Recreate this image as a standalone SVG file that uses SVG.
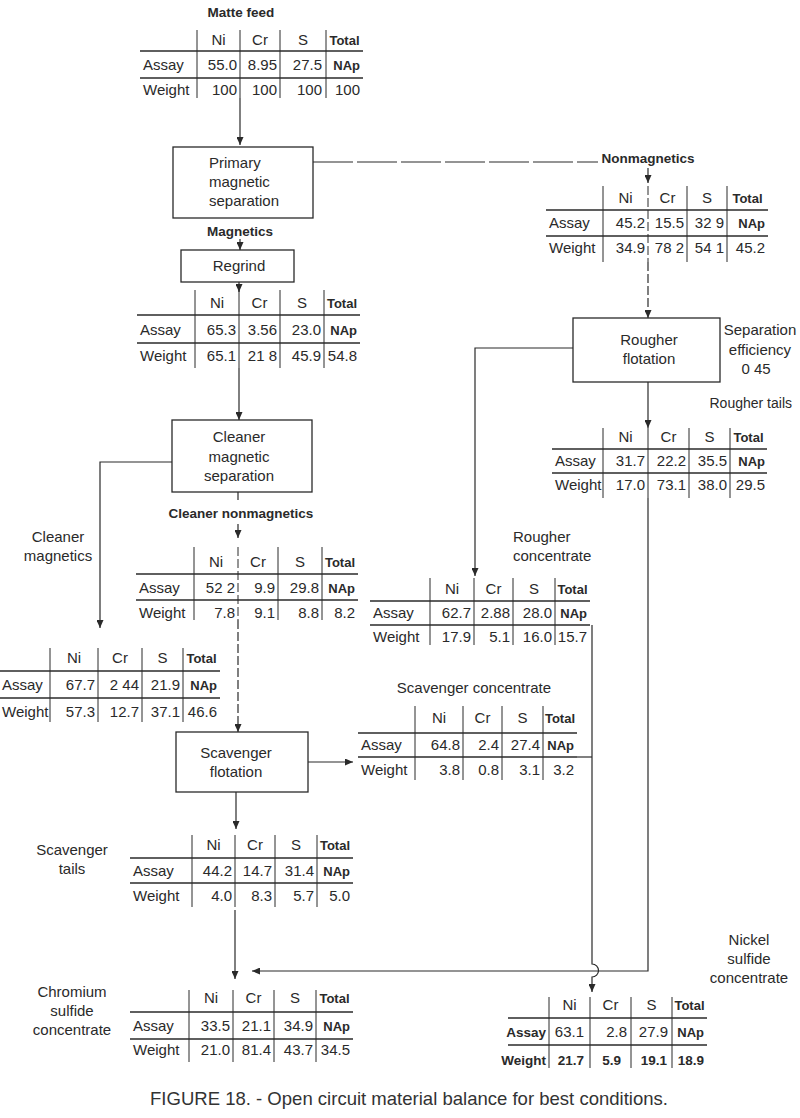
<svg xmlns="http://www.w3.org/2000/svg" width="800" height="1118" viewBox="0 0 800 1118">
<defs>
<marker id="ah" markerWidth="8" markerHeight="7" refX="8" refY="3.5" orient="auto" markerUnits="userSpaceOnUse">
<path d="M0,0 L8,3.5 L0,7 z" fill="#2a2a2a"/>
</marker>
<style>
text{font-family:"Liberation Sans",Arial,sans-serif;fill:#2a2a2a;font-size:15px}
.b{font-weight:bold;font-size:13px}
.lb{font-weight:bold;font-size:13.5px}
.m{text-anchor:middle}
.e{text-anchor:end}
.hl{stroke:#2a2a2a;stroke-width:1.5}
.vl{stroke:#2a2a2a;stroke-width:1}
.box{fill:none;stroke:#2a2a2a;stroke-width:1.3}
.c{fill:none;stroke:#2a2a2a;stroke-width:1.2}
.d{stroke-dasharray:40 4}
.dv{stroke-dasharray:9 3}
.cap{font-size:19px;fill:#333}
</style>
</defs>
<rect width="800" height="1118" fill="#ffffff"/>

<g id="connectors">
<path class="c" d="M240,98 V145" marker-end="url(#ah)"/>
<path class="c d" d="M313,162 H598"/>
<path class="c" d="M648,168 V183" marker-end="url(#ah)"/>
<path class="c dv" d="M648,262 V318" marker-end="url(#ah)"/>
<path class="c" d="M240,239 V250" marker-end="url(#ah)"/>
<path class="c" d="M239,282 V292" marker-end="url(#ah)"/>
<path class="c" d="M239,368 V420" marker-end="url(#ah)"/>
<path class="c" d="M172,462 H100 V628" marker-end="url(#ah)"/>
<path class="c" d="M238,492 V500"/>
<path class="c dv" d="M238,524 V538" marker-end="url(#ah)"/>
<path class="c dv" d="M238,620 V732" marker-end="url(#ah)"/>
<path class="c" d="M308,762 H353" marker-end="url(#ah)"/>
<path class="c" d="M236,792 V829" marker-end="url(#ah)"/>
<path class="c" d="M235,910 V979" marker-end="url(#ah)"/>
<path class="c" d="M573,348 H475 V576" marker-end="url(#ah)"/>
<path class="c" d="M648,382 V428" marker-end="url(#ah)"/>
<path class="c" d="M648,498 V971 H252" marker-end="url(#ah)"/>
<path class="c" d="M592,625 V964 A6,6 0 0 1 592,977 V992" marker-end="url(#ah)"/>
<path class="c" d="M577,757 H592"/>
</g>

<g id="matte-feed">
<text class="lb m" x="241" y="17">Matte feed</text>
<line class="hl" x1="140" y1="51" x2="363" y2="51"/>
<line class="hl" x1="140" y1="78" x2="363" y2="78"/>
<line class="vl" x1="197" y1="30" x2="197" y2="98"/>
<line class="vl" x1="240" y1="30" x2="240" y2="98"/>
<line class="vl" x1="280" y1="30" x2="280" y2="98"/>
<line class="vl" x1="326" y1="30" x2="326" y2="98"/>
<text class="m" x="218.5" y="45">Ni</text><text class="m" x="260" y="45">Cr</text><text class="m" x="303" y="45">S</text><text class="b m" x="344.5" y="45">Total</text>
<text x="143" y="70">Assay</text><text class="e" x="237" y="70">55.0</text><text class="e" x="277" y="70">8.95</text><text class="e" x="322" y="70">27.5</text><text class="b e" x="360" y="70">NAp</text>
<text x="143" y="95">Weight</text><text class="e" x="237" y="95">100</text><text class="e" x="277" y="95">100</text><text class="e" x="322" y="95">100</text><text class="e" x="360" y="95">100</text>
</g>

<g id="primary-magnetic-separation">
<rect class="box" x="173" y="147" width="140" height="71"/>
<text x="209" y="168">Primary</text>
<text x="209" y="187">magnetic</text>
<text x="209" y="206">separation</text>
</g>

<g id="magnetics-label"><text class="lb m" x="240" y="236">Magnetics</text></g>

<g id="regrind">
<rect class="box" x="181" y="250" width="113" height="32"/>
<text class="m" x="239" y="271">Regrind</text>
</g>

<g id="nonmagnetics">
<text class="lb m" x="648" y="163">Nonmagnetics</text>
<line class="hl" x1="546" y1="210" x2="768" y2="210"/>
<line class="hl" x1="546" y1="236" x2="768" y2="236"/>
<line class="vl" x1="603" y1="186" x2="603" y2="262"/>
<line class="vl dv" x1="648" y1="186" x2="648" y2="262"/>
<line class="vl" x1="687" y1="186" x2="687" y2="262"/>
<line class="vl" x1="727" y1="186" x2="727" y2="262"/>
<text class="m" x="625.5" y="203">Ni</text><text class="m" x="667.5" y="203">Cr</text><text class="m" x="707" y="203">S</text><text class="b m" x="747.5" y="203">Total</text>
<text x="549" y="228">Assay</text><text class="e" x="645" y="228">45.2</text><text class="e" x="684" y="228">15.5</text><text class="e" x="724" y="228">32 9</text><text class="b e" x="765" y="228">NAp</text>
<text x="549" y="253">Weight</text><text class="e" x="645" y="253">34.9</text><text class="e" x="684" y="253">78 2</text><text class="e" x="724" y="253">54 1</text><text class="e" x="765" y="253">45.2</text>
</g>

<g id="magnetics-table">
<line class="hl" x1="137" y1="315" x2="360" y2="315"/>
<line class="hl" x1="137" y1="343" x2="360" y2="343"/>
<line class="vl" x1="195" y1="290" x2="195" y2="368"/>
<line class="vl" x1="239" y1="290" x2="239" y2="368"/>
<line class="vl" x1="280" y1="290" x2="280" y2="368"/>
<line class="vl" x1="324" y1="290" x2="324" y2="368"/>
<text class="m" x="217" y="308">Ni</text><text class="m" x="259.5" y="308">Cr</text><text class="m" x="302" y="308">S</text><text class="b m" x="342" y="308">Total</text>
<text x="140" y="335">Assay</text><text class="e" x="236" y="335">65.3</text><text class="e" x="277" y="335">3.56</text><text class="e" x="321" y="335">23.0</text><text class="b e" x="357" y="335">NAp</text>
<text x="140" y="361">Weight</text><text class="e" x="236" y="361">65.1</text><text class="e" x="277" y="361">21 8</text><text class="e" x="321" y="361">45.9</text><text class="e" x="357" y="361">54.8</text>
</g>

<g id="rougher-flotation">
<rect class="box" x="573" y="318" width="147" height="64"/>
<text class="m" x="649" y="345">Rougher</text>
<text class="m" x="649" y="364">flotation</text>
</g>

<g id="separation-efficiency">
<text class="m" x="760" y="335">Separation</text>
<text class="m" x="760" y="355">efficiency</text>
<text class="m" x="756" y="374">0 45</text>
</g>

<g id="rougher-tails">
<text class="e" x="792" y="408" style="font-size:14px">Rougher tails</text>
<line class="hl" x1="552" y1="449" x2="767" y2="449"/>
<line class="hl" x1="552" y1="473" x2="767" y2="473"/>
<line class="vl" x1="603" y1="428" x2="603" y2="498"/>
<line class="vl" x1="648" y1="428" x2="648" y2="498"/>
<line class="vl" x1="689" y1="428" x2="689" y2="498"/>
<line class="vl" x1="730" y1="428" x2="730" y2="498"/>
<text class="m" x="625.5" y="442">Ni</text><text class="m" x="668.5" y="442">Cr</text><text class="m" x="709.5" y="442">S</text><text class="b m" x="748.5" y="442">Total</text>
<text x="555" y="466">Assay</text><text class="e" x="645" y="466">31.7</text><text class="e" x="686" y="466">22.2</text><text class="e" x="727" y="466">35.5</text><text class="b e" x="765" y="466">NAp</text>
<text x="555" y="490">Weight</text><text class="e" x="645" y="490">17.0</text><text class="e" x="686" y="490">73.1</text><text class="e" x="727" y="490">38.0</text><text class="e" x="765" y="490">29.5</text>
</g>

<g id="cleaner-magnetic-separation">
<rect class="box" x="172" y="420" width="140" height="72"/>
<text class="m" x="239" y="442">Cleaner</text>
<text class="m" x="239" y="462">magnetic</text>
<text class="m" x="239" y="481">separation</text>
</g>

<g id="cleaner-nonmagnetics-label"><text class="lb m" x="241" y="518">Cleaner nonmagnetics</text></g>

<g id="cleaner-magnetics-label">
<text class="m" x="58" y="542">Cleaner</text>
<text class="m" x="58" y="561">magnetics</text>
</g>

<g id="cleaner-nonmagnetics-table">
<line class="hl" x1="136" y1="574" x2="358" y2="574"/>
<line class="hl" x1="136" y1="600" x2="358" y2="600"/>
<line class="vl" x1="194" y1="547" x2="194" y2="620"/>
<line class="vl dv" x1="238" y1="547" x2="238" y2="620"/>
<line class="vl" x1="278" y1="547" x2="278" y2="620"/>
<line class="vl" x1="322" y1="547" x2="322" y2="620"/>
<text class="m" x="216" y="567">Ni</text><text class="m" x="258" y="567">Cr</text><text class="m" x="300" y="567">S</text><text class="b m" x="340" y="567">Total</text>
<text x="139" y="593">Assay</text><text class="e" x="235" y="593">52 2</text><text class="e" x="275" y="593">9.9</text><text class="e" x="319" y="593">29.8</text><text class="b e" x="355" y="593">NAp</text>
<text x="139" y="618">Weight</text><text class="e" x="235" y="618">7.8</text><text class="e" x="275" y="618">9.1</text><text class="e" x="319" y="618">8.8</text><text class="e" x="355" y="618">8.2</text>
</g>

<g id="rougher-concentrate">
<text x="513" y="542">Rougher</text>
<text x="513" y="561">concentrate</text>
<line class="hl" x1="370" y1="601" x2="590" y2="601"/>
<line class="hl" x1="370" y1="625" x2="590" y2="625"/>
<line class="vl" x1="430" y1="578" x2="430" y2="645"/>
<line class="vl" x1="474" y1="578" x2="474" y2="645"/>
<line class="vl" x1="513" y1="578" x2="513" y2="645"/>
<line class="vl" x1="555" y1="578" x2="555" y2="645"/>
<text class="m" x="452" y="594">Ni</text><text class="m" x="493.5" y="594">Cr</text><text class="m" x="534" y="594">S</text><text class="b m" x="572.5" y="594">Total</text>
<text x="373" y="618">Assay</text><text class="e" x="471" y="618">62.7</text><text class="e" x="510" y="618">2.88</text><text class="e" x="552" y="618">28.0</text><text class="b e" x="587" y="618">NAp</text>
<text x="373" y="642">Weight</text><text class="e" x="471" y="642">17.9</text><text class="e" x="510" y="642">5.1</text><text class="e" x="552" y="642">16.0</text><text class="e" x="587" y="642">15.7</text>
</g>

<g id="cleaner-magnetics-table">
<line class="hl" x1="0" y1="671" x2="220" y2="671"/>
<line class="hl" x1="0" y1="698" x2="220" y2="698"/>
<line class="vl" x1="50" y1="648" x2="50" y2="722"/>
<line class="vl" x1="98" y1="648" x2="98" y2="722"/>
<line class="vl" x1="142" y1="648" x2="142" y2="722"/>
<line class="vl" x1="183" y1="648" x2="183" y2="722"/>
<text class="m" x="74" y="663">Ni</text><text class="m" x="120" y="663">Cr</text><text class="m" x="162.5" y="663">S</text><text class="b m" x="201.5" y="663">Total</text>
<text x="2" y="690">Assay</text><text class="e" x="95" y="690">67.7</text><text class="e" x="139" y="690">2 44</text><text class="e" x="180" y="690">21.9</text><text class="b e" x="217" y="690">NAp</text>
<text x="2" y="717">Weight</text><text class="e" x="95" y="717">57.3</text><text class="e" x="139" y="717">12.7</text><text class="e" x="180" y="717">37.1</text><text class="e" x="217" y="717">46.6</text>
</g>

<g id="scavenger-concentrate">
<text class="m" x="474" y="693">Scavenger concentrate</text>
<line class="hl" x1="358" y1="733" x2="577" y2="733"/>
<line class="hl" x1="358" y1="757" x2="577" y2="757"/>
<line class="vl" x1="415" y1="706" x2="415" y2="780"/>
<line class="vl" x1="463" y1="706" x2="463" y2="780"/>
<line class="vl" x1="502" y1="706" x2="502" y2="780"/>
<line class="vl" x1="543" y1="706" x2="543" y2="780"/>
<text class="m" x="439" y="723">Ni</text><text class="m" x="482.5" y="723">Cr</text><text class="m" x="522.5" y="723">S</text><text class="b m" x="560" y="723">Total</text>
<text x="361" y="750">Assay</text><text class="e" x="460" y="750">64.8</text><text class="e" x="499" y="750">2.4</text><text class="e" x="540" y="750">27.4</text><text class="b e" x="574" y="750">NAp</text>
<text x="361" y="775">Weight</text><text class="e" x="460" y="775">3.8</text><text class="e" x="499" y="775">0.8</text><text class="e" x="540" y="775">3.1</text><text class="e" x="574" y="775">3.2</text>
</g>

<g id="scavenger-flotation">
<rect class="box" x="176" y="732" width="132" height="60"/>
<text class="m" x="236" y="758">Scavenger</text>
<text class="m" x="236" y="777">flotation</text>
</g>

<g id="scavenger-tails">
<text class="m" x="72" y="855">Scavenger</text>
<text class="m" x="72" y="874">tails</text>
<line class="hl" x1="130" y1="858" x2="353" y2="858"/>
<line class="hl" x1="130" y1="883" x2="353" y2="883"/>
<line class="vl" x1="192" y1="835" x2="192" y2="907"/>
<line class="vl" x1="235" y1="835" x2="235" y2="907"/>
<line class="vl" x1="275" y1="835" x2="275" y2="907"/>
<line class="vl" x1="317" y1="835" x2="317" y2="907"/>
<text class="m" x="213.5" y="850">Ni</text><text class="m" x="255" y="850">Cr</text><text class="m" x="296" y="850">S</text><text class="b m" x="335" y="850">Total</text>
<text x="133" y="876">Assay</text><text class="e" x="232" y="876">44.2</text><text class="e" x="272" y="876">14.7</text><text class="e" x="314" y="876">31.4</text><text class="b e" x="350" y="876">NAp</text>
<text x="133" y="901">Weight</text><text class="e" x="232" y="901">4.0</text><text class="e" x="272" y="901">8.3</text><text class="e" x="314" y="901">5.7</text><text class="e" x="350" y="901">5.0</text>
</g>

<g id="nickel-sulfide-concentrate">
<text class="m" x="749" y="945">Nickel</text>
<text class="m" x="749" y="964">sulfide</text>
<text class="m" x="749" y="983">concentrate</text>
<line class="hl" x1="508" y1="1018" x2="707" y2="1018"/>
<line class="hl" x1="508" y1="1045" x2="707" y2="1045"/>
<line class="vl" x1="549" y1="997" x2="549" y2="1068"/>
<line class="vl" x1="590" y1="997" x2="590" y2="1068"/>
<line class="vl" x1="631" y1="997" x2="631" y2="1068"/>
<line class="vl" x1="672" y1="997" x2="672" y2="1068"/>
<text class="m" x="569.5" y="1010">Ni</text><text class="m" x="610.5" y="1010">Cr</text><text class="m" x="651.5" y="1010">S</text><text class="b m" x="689.5" y="1010">Total</text>
<text class="lb e" x="546" y="1037">Assay</text><text class="e" x="584" y="1037">63.1</text><text class="e" x="627" y="1037">2.8</text><text class="e" x="668" y="1037">27.9</text><text class="b e" x="704" y="1037">NAp</text>
<text class="lb e" x="546" y="1065">Weight</text><text class="lb e" x="584" y="1065">21.7</text><text class="lb e" x="621" y="1065">5.9</text><text class="lb e" x="667" y="1065">19.1</text><text class="lb e" x="704" y="1065">18.9</text>
</g>

<g id="chromium-sulfide-concentrate">
<text class="m" x="72" y="997">Chromium</text>
<text class="m" x="72" y="1016">sulfide</text>
<text class="m" x="72" y="1035">concentrate</text>
<line class="hl" x1="130" y1="1012" x2="353" y2="1012"/>
<line class="hl" x1="130" y1="1039" x2="353" y2="1039"/>
<line class="vl" x1="189" y1="990" x2="189" y2="1062"/>
<line class="vl" x1="233" y1="990" x2="233" y2="1062"/>
<line class="vl" x1="274" y1="990" x2="274" y2="1062"/>
<line class="vl" x1="316" y1="990" x2="316" y2="1062"/>
<text class="m" x="211" y="1003">Ni</text><text class="m" x="253.5" y="1003">Cr</text><text class="m" x="295" y="1003">S</text><text class="b m" x="334.5" y="1003">Total</text>
<text x="133" y="1031">Assay</text><text class="e" x="230" y="1031">33.5</text><text class="e" x="271" y="1031">21.1</text><text class="e" x="313" y="1031">34.9</text><text class="b e" x="350" y="1031">NAp</text>
<text x="133" y="1055">Weight</text><text class="e" x="230" y="1055">21.0</text><text class="e" x="271" y="1055">81.4</text><text class="e" x="313" y="1055">43.7</text><text class="e" x="350" y="1055">34.5</text>
</g>

<g id="caption">
<text class="cap" x="150" y="1105" textLength="518" lengthAdjust="spacingAndGlyphs">FIGURE 18. - Open circuit material balance for best conditions.</text>
</g>
</svg>
